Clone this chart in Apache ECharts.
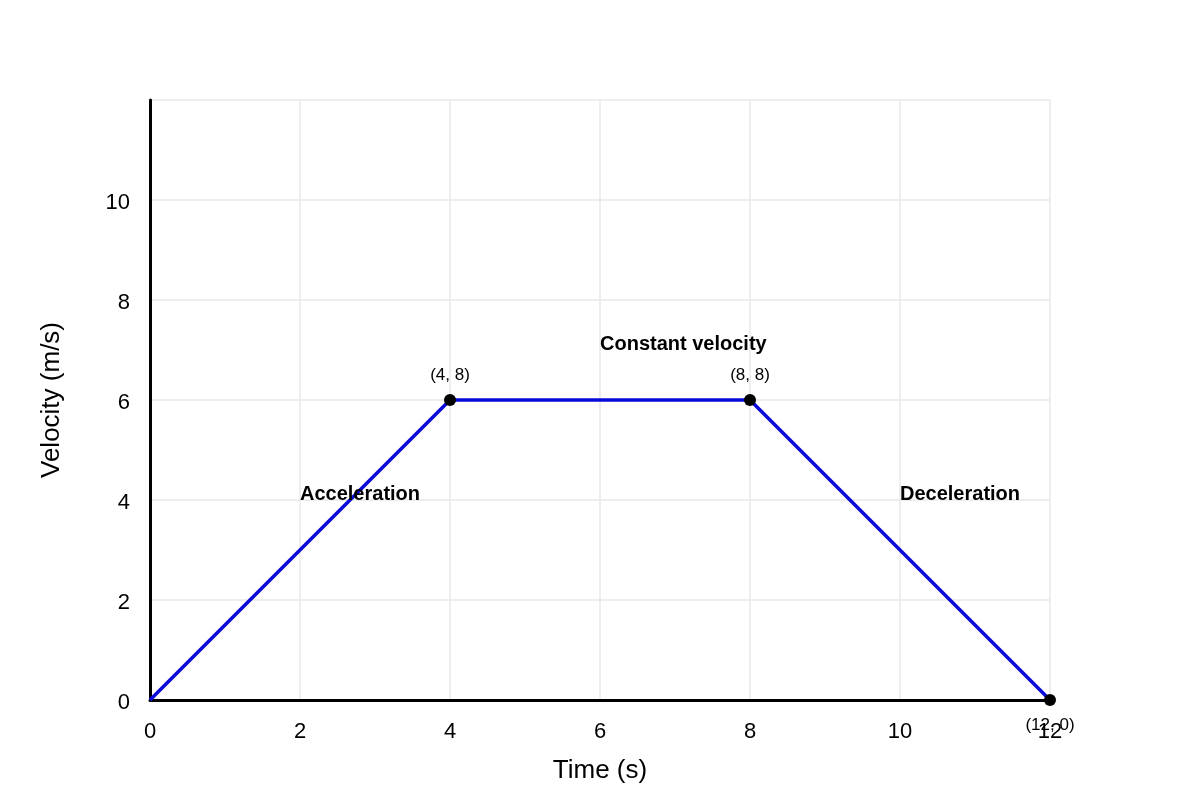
<!DOCTYPE html>
<html>
<head>
<meta charset="utf-8">
<script src="https://cdn.jsdelivr.net/npm/echarts@6/dist/echarts.min.js"></script>
<style>
html,body{margin:0;padding:0;background:#fff;}
#chart{width:1200px;height:800px;}
</style>
</head>
<body>
<div id="chart"></div>
<script>
// velocity-time data
var timeValues=[0,4,8,12];
var velocityValues=[0,6,6,0];

// marked points and their labels
var markedPoints=[[4,6],[8,6],[12,0]];
var markedLabels=["(4, 8)","(8, 8)","(12, 0)"];

// phase notes
var noteTexts=["Acceleration","Constant velocity","Deceleration"];
var notePoints=[[2,4],[6,7],[10,4]];

var xTicks=[0,2,4,6,8,10,12];
var yTicks=[0,2,4,6,8,10];

function onReady(f){ if(document.readyState!="loading"){f();}else{document.addEventListener("DOMContentLoaded",f);} }

onReady(function(){
	showVelocityChart();
});

function showVelocityChart(){
	var dom=document.getElementById("chart");
	var myChart=echarts.init(dom);
	var fontName="Liberation Sans, Arial, sans-serif";

	var lineData=timeValues.map(function(t,i){ return [t,velocityValues[i]]; });
	var dotData=markedPoints.map(function(p,i){
		return {
			value:p,
			label:{
				show:true,
				formatter:markedLabels[i],
				position:p[1]==0?"bottom":"top",
				distance:p[1]==0?11:10,
				fontSize:17,
				color:"#000",
				opacity:1,
				fontFamily:fontName
			}
		};
	});
	var noteData=notePoints.map(function(p,i){
		return {
			value:p,
			label:{
				show:true,
				formatter:noteTexts[i],
				position:"inside",
				align:"left",
				verticalAlign:"bottom",
				offset:[0,4],
				fontSize:20,
				fontWeight:"bold",
				color:"#000",
				opacity:1,
				fontFamily:fontName
			}
		};
	});

	var option={
		backgroundColor:"#fff",
		animation:false,
		grid:{left:150,right:150,top:100,bottom:100},
		xAxis:{
			type:"value",
			min:0,max:12,interval:2,
			name:"Time (s)",
			nameLocation:"middle",
			nameGap:58,
			nameTextStyle:{fontSize:26,color:"#000",fontFamily:fontName},
			axisLine:{show:true,onZero:false,lineStyle:{color:"#000",width:3}},
			axisTick:{show:false},
			axisLabel:{
				fontSize:22,color:"#000",margin:21,fontFamily:fontName,
				formatter:function(v){ return xTicks.indexOf(v)>=0?String(v):""; }
			},
			splitLine:{show:true,lineStyle:{color:"#e8e8e8",width:1.5}}
		},
		yAxis:{
			type:"value",
			min:0,max:12,interval:2,
			name:"Velocity (m/s)",
			nameLocation:"middle",
			nameGap:85,
			nameTextStyle:{fontSize:26,color:"#000",fontFamily:fontName},
			axisLine:{show:true,onZero:false,lineStyle:{color:"#000",width:3}},
			axisTick:{show:false},
			axisLabel:{
				margin:20,
				formatter:function(v){ return yTicks.indexOf(v)>=0?"{t|"+v+"}":""; },
				rich:{
					t:{fontSize:22,color:"#000",fontFamily:fontName,padding:[6,0,0,0]}
				}
			},
			splitLine:{show:true,lineStyle:{color:"#e8e8e8",width:1.5}}
		},
		series:[
			{
				type:"line",
				data:lineData,
				showSymbol:false,
				lineStyle:{color:"#0a0ad8",width:3.5},
				z:3
			},
			{
				type:"scatter",
				data:dotData,
				symbol:"circle",
				symbolSize:12,
				itemStyle:{color:"#000",opacity:1},
				z:4
			},
			{
				type:"scatter",
				data:noteData,
				symbolSize:0,
				itemStyle:{opacity:1},
				z:5
			}
		]
	};
	myChart.setOption(option,true);
}
</script>
</body>
</html>
